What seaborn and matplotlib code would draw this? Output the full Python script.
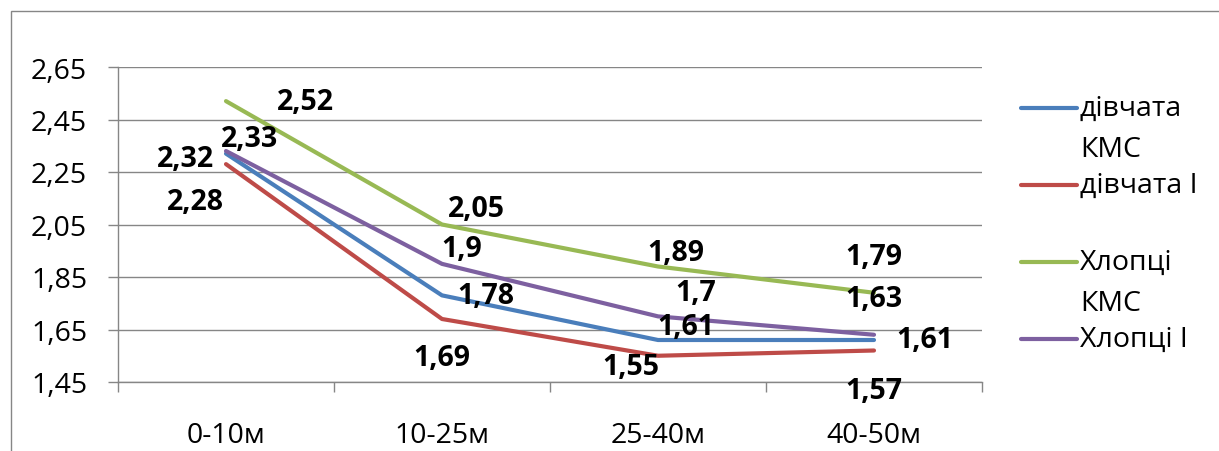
import textwrap
import numpy as np
import pandas as pd
import matplotlib
matplotlib.use("Agg")
import matplotlib.pyplot as plt
from matplotlib.lines import Line2D
from matplotlib.patches import Rectangle
import seaborn as sns

# Data
categories = ["0-10м", "10-25м", "25-40м", "40-50м"]
series_names = ["дівчата КМС", "дівчата I", "Хлопці КМС", "Хлопці I"]
girls_kms = [2.32, 1.78, 1.61, 1.61]
girls_1 = [2.28, 1.69, 1.55, 1.57]
boys_kms = [2.52, 2.05, 1.89, 1.79]
boys_1 = [2.33, 1.90, 1.70, 1.63]
colors = ["#4A7EBB", "#BE4B48", "#98B954", "#7D60A0"]

# where Excel put each data label (pixels: dx right, dy down)
label_offsets = [
    [(-41, 5), (44, 0), (28, -13), (51, 0)],
    [(-31, 37), (0, 39), (-27, 11), (0, 40)],
    [(79, 0), (34, -16), (18, -14), (0, -36)],
    [(24, -12), (20, -15), (38, -24), (0, -36)],
]

values = [girls_kms, girls_1, boys_kms, boys_1]
df = pd.DataFrame({
    "Дистанція": categories * len(series_names),
    "Серія": np.repeat(series_names, len(categories)),
    "Значення": np.concatenate(values),
})

sns.set_theme(style="ticks")
plt.rcParams['font.family'] = ['Open Sans', 'DejaVu Sans']
grid_col = '#868686'
fs = 20.5

W, H = 1219, 452
fig = plt.figure(figsize=(W / 100, H / 100), dpi=100)
ax = fig.add_axes([118 / W, 1 - 383 / H, 864 / W, 315 / H])

sns.lineplot(data=df, x="Дистанція", y="Значення", hue="Серія", hue_order=series_names,
             palette=colors, lw=3, sort=False, legend=False, ax=ax,
             solid_capstyle='round')

ax.set_xlim(-0.5, len(categories) - 0.5)
ax.set_ylim(1.45, 2.65)
yticks = np.arange(1.45, 2.651, 0.2)
ax.set_yticks(yticks)
ax.set_yticklabels([f"{v:.2f}".replace(".", ",") for v in yticks])
ax.set_xticks(range(len(categories)))
ax.set_xticklabels(categories)
ax.set_xticks(np.arange(-0.5, len(categories), 1), minor=True)
ax.tick_params(axis='x', which='major', length=0, pad=28, labelsize=fs, labelcolor='black')
ax.tick_params(axis='x', which='minor', length=7.2, width=1, color=grid_col, direction='out')
ax.tick_params(axis='y', length=7.2, width=1, color=grid_col, direction='out', pad=15,
               labelsize=fs, labelcolor='black')
ax.grid(axis='y', color=grid_col, lw=1)
ax.set_axisbelow(True)
for s in ['top', 'right']:
    ax.spines[s].set_visible(False)
for s in ['left', 'bottom']:
    ax.spines[s].set_color(grid_col)
    ax.spines[s].set_linewidth(1)
ax.set_xlabel('')
ax.set_ylabel('')

# data labels
for vals, offs in zip(values, label_offsets):
    for i, (v, (dx, dy)) in enumerate(zip(vals, offs)):
        ax.annotate(f"{v:g}".replace(".", ","), (i, v), xytext=(dx, -dy),
                    textcoords='offset pixels', ha='center', va='center',
                    fontsize=fs, fontweight='bold', color='black')

# legend, Excel style (handle next to first line of wrapped name)
for i, (name, c) in enumerate(zip(series_names, colors)):
    y = 109 + 77 * i
    fig.add_artist(Line2D([1021 / W, 1077 / W], [1 - y / H, 1 - y / H], color=c, lw=3,
                          solid_capstyle='round', transform=fig.transFigure))
    for j, line in enumerate(textwrap.wrap(name, 9)):
        fig.text(1080 / W, 1 - (y + 41 * j) / H, line, ha='left', va='center',
                 fontsize=fs, color='black')

# outer chart border
fig.add_artist(Rectangle((11 / W, -0.5), 2, 1.5 - 12 / H, fill=False, edgecolor=grid_col,
                         lw=1, transform=fig.transFigure))

fig.savefig("out.png", dpi=100)
